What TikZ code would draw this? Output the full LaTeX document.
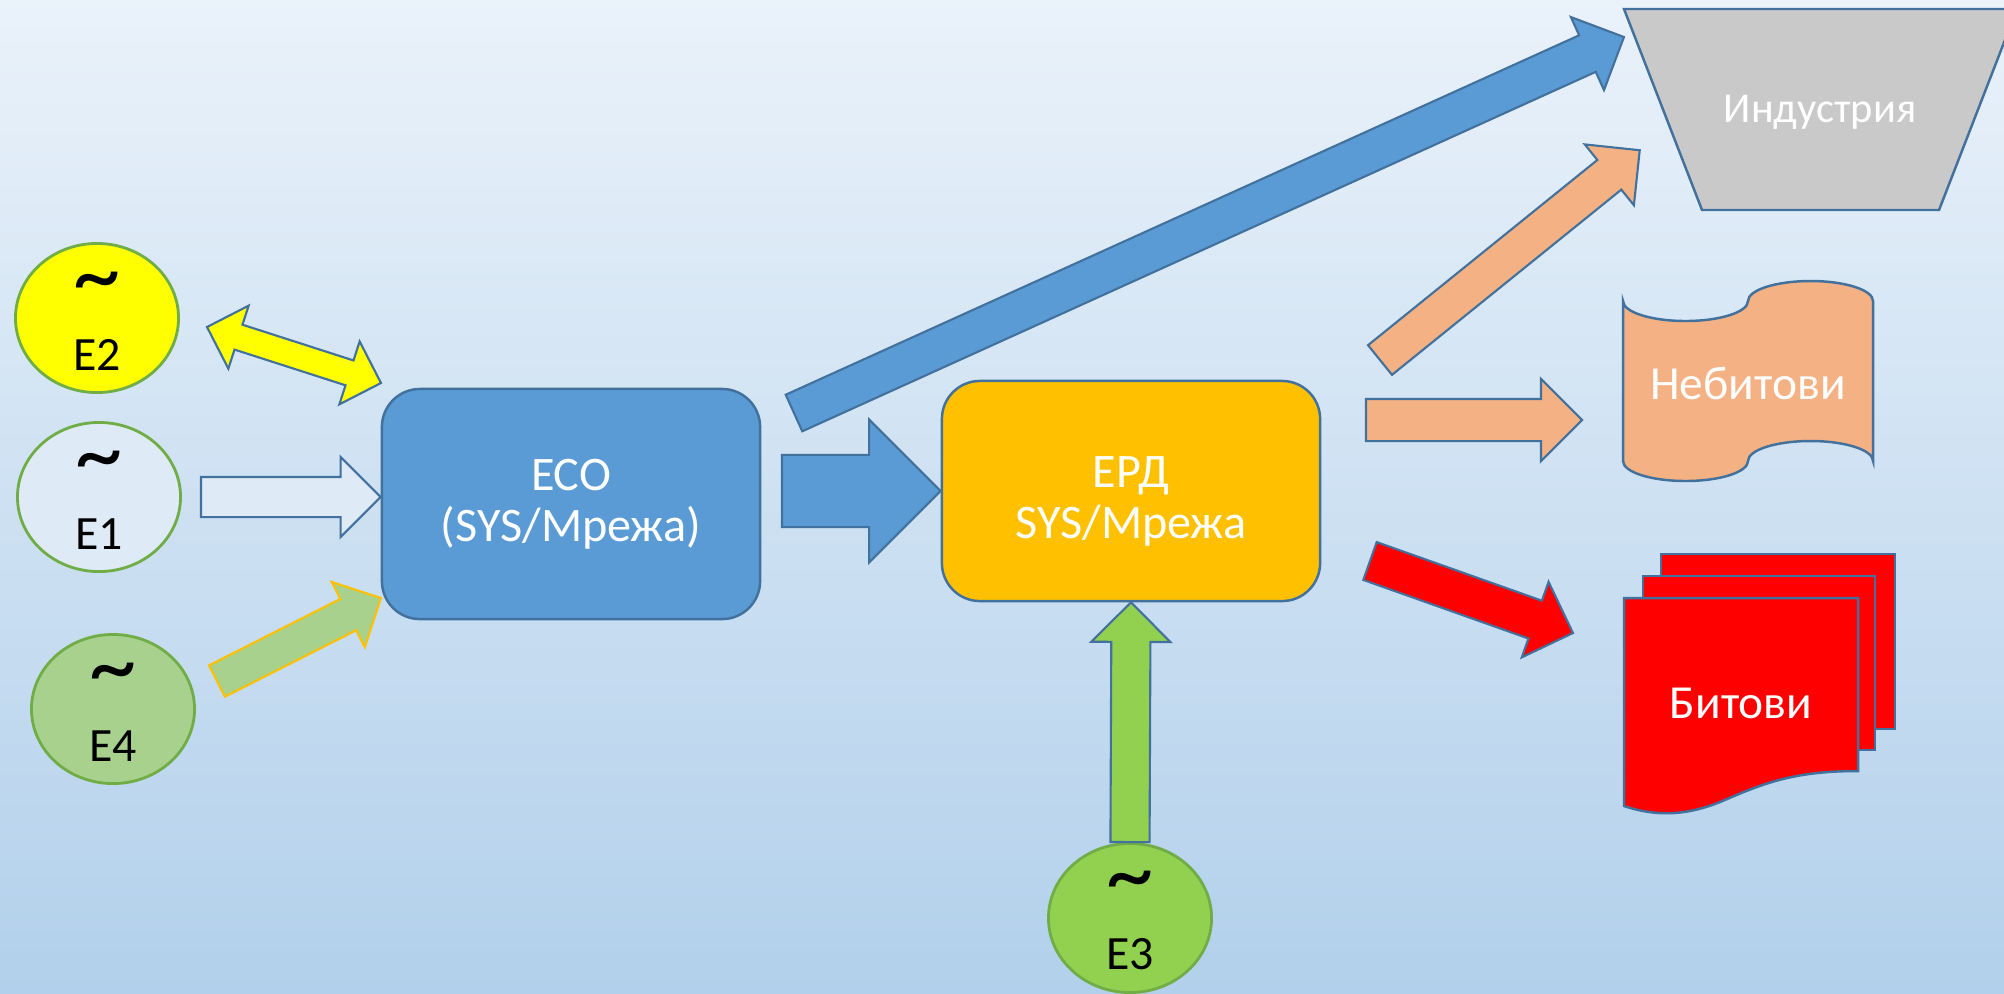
\documentclass[tikz,border=0pt]{standalone}
\usepackage{fontspec}
\setmainfont{Carlito}
\usetikzlibrary{shapes.geometric, shapes.arrows, calc, positioning}

\definecolor{bgtop}{HTML}{EAF2FA}
\definecolor{bgbot}{HTML}{B2D0EB}
\definecolor{edge}{HTML}{41719C}
\definecolor{srcline}{HTML}{70AD47}
\definecolor{eyellow}{HTML}{FFFF00}
\definecolor{elight}{HTML}{DEEBF7}
\definecolor{egreen}{HTML}{A9D18E}
\definecolor{elime}{HTML}{92D050}
\definecolor{ecoblue}{HTML}{5B9BD5}
\definecolor{erdgold}{HTML}{FFC000}
\definecolor{indgray}{HTML}{C9C9C9}
\definecolor{tapeorange}{HTML}{F4B183}

\newcommand{\wave}{{\fontsize{27}{27}\selectfont\textasciitilde}}

\tikzset{
  source/.style={ellipse, draw=srcline, line width=0.8pt, minimum width=1.63cm, minimum height=1.49cm,
    inner sep=0pt, align=center, font=\fontsize{13.6}{18.2}\selectfont},
  box/.style={rectangle, rounded corners=0.38cm, draw=edge, line width=0.7pt, minimum width=3.78cm,
    text=white, align=center, font=\fontsize{13.7}{14.5}\selectfont},
  whitelabel/.style={text=white, font=\fontsize{13}{15}\selectfont},
  shapeline/.style={draw=edge, line width=0.7pt},
  flowarrow/.style={single arrow, draw=edge, line width=0.6pt, inner xsep=0pt, inner ysep=0.19cm,
    outer sep=0pt, single arrow head extend=0.2cm, anchor=tail},
  bigarrow/.style={inner ysep=0.35cm, single arrow head extend=0.355cm},
  twoway/.style={double arrow, draw=edge, line width=0.6pt, inner xsep=0pt, inner ysep=0.12cm,
    outer sep=0pt, double arrow head extend=0.2cm}
}

\newcommand{\flow}[3][flowarrow]{%
  \path let \p1=(#2), \p2=(#3), \n1={atan2(\y2-\y1,\x2-\x1)}, \n2={veclen(\x2-\x1,\y2-\y1)} in
    node[#1, minimum height=\n2, rotate=\n1] at (\p1) {};}
\newcommand{\flowboth}[3][twoway]{%
  \path let \p1=(#2), \p2=(#3), \n1={atan2(\y2-\y1,\x2-\x1)}, \n2={veclen(\x2-\x1,\y2-\y1)} in
    node[#1, minimum height=\n2, rotate=\n1] at ($(\p1)!0.5!(\p2)$) {};}

\begin{document}
\begin{tikzpicture}[x=0.01cm, y=-0.01cm]
  \clip (0,0) rectangle (2004,993);
  \shade[top color=bgtop, bottom color=bgbot] (0,0) rectangle (2004,993);

  \node[source, fill=eyellow] (e2) at (97,318) {\rule{0pt}{0.4cm}\wave\\E2};
  \node[source, fill=elight] (e1) at (99,497) {\rule{0pt}{0.4cm}\wave\\E1};
  \node[source, fill=egreen] (e4) at (113,709) {\rule{0pt}{0.4cm}\wave\\E4};
  \node[source, fill=elime] (e3) at (1130,918) {\rule{0pt}{0.4cm}\wave\\E3};

  \node[box, fill=ecoblue, minimum height=2.3cm] (eco) at (571,504) {ЕСО\\(SYS/Мрежа)};
  \node[box, fill=erdgold, minimum height=2.2cm] (erd) at (1131,491) {\rule{0pt}{0.51cm}ЕРД\\SYS/Мрежа};

  \draw[shapeline, fill=indgray] (1624,9) -- (2017,9) -- (1939,210) -- (1702,210) -- cycle;
  \node[whitelabel, font=\fontsize{12.1}{14}\selectfont] (ind) at (1820,112) {Индустрия};

  \draw[shapeline, fill=tapeorange] (1623,301)
    arc[start angle=180, end angle=0, x radius=62.5, y radius=20]
    arc[start angle=180, end angle=360, x radius=62.5, y radius=20] -- (1873,461)
    arc[start angle=360, end angle=180, x radius=62.5, y radius=20]
    arc[start angle=0, end angle=180, x radius=62.5, y radius=20] -- cycle;
  \node[whitelabel, font=\fontsize{13.5}{16}\selectfont] (nebit) at (1748,383) {Небитови};

  \draw[shapeline, fill=red] (1661,554) rectangle (1895,729);
  \draw[shapeline, fill=red] (1643,576) rectangle (1875,750);
  \draw[shapeline, fill=red] (1624,598) -- (1858,598) -- (1858,771)
    .. controls (1790,771) and (1760,785) .. (1720,802)
    .. controls (1690,814) and (1660,818) .. (1624,806) -- cycle;
  \node[whitelabel, font=\fontsize{13.5}{16}\selectfont] (bit) at (1741,703) {Битови};

  \coordinate (e2a) at (207,327);
  \coordinate (e2b) at (381,383);
  \coordinate (e1a) at (201,497);
  \coordinate (e1b) at (eco.west |- e1a);
  \coordinate (e4a) at (217,681);
  \coordinate (e4b) at (381,598);
  \coordinate (ecoa) at (782,491);
  \coordinate (inda) at (794,413);
  \coordinate (indb) at (1624,37);
  \coordinate (upa) at (1380,360);
  \coordinate (upb) at (1640,150);
  \coordinate (nba) at (1366,420);
  \coordinate (nbb) at (1582,420);
  \coordinate (bta) at (1370,561);
  \coordinate (btb) at (1573,633);

  \flowboth[twoway, fill=eyellow]{e2a}{e2b}
  \flow[flowarrow, fill=elight]{e1a}{e1b}
  \flow[flowarrow, draw=erdgold, fill=egreen, inner ysep=0.165cm, single arrow head extend=0.19cm]{e4a}{e4b}
  \flow[flowarrow, bigarrow, fill=ecoblue]{ecoa}{erd.west}
  \flow[flowarrow, fill=ecoblue]{inda}{indb}
  \flow[flowarrow, inner ysep=0.18cm, fill=tapeorange]{upa}{upb}
  \flow[flowarrow, inner ysep=0.2cm, fill=tapeorange]{nba}{nbb}
  \flow[flowarrow, fill=red]{bta}{btb}
  \flow[flowarrow, inner ysep=0.185cm, fill=elime]{e3.north}{erd.south}
\end{tikzpicture}
\end{document}
